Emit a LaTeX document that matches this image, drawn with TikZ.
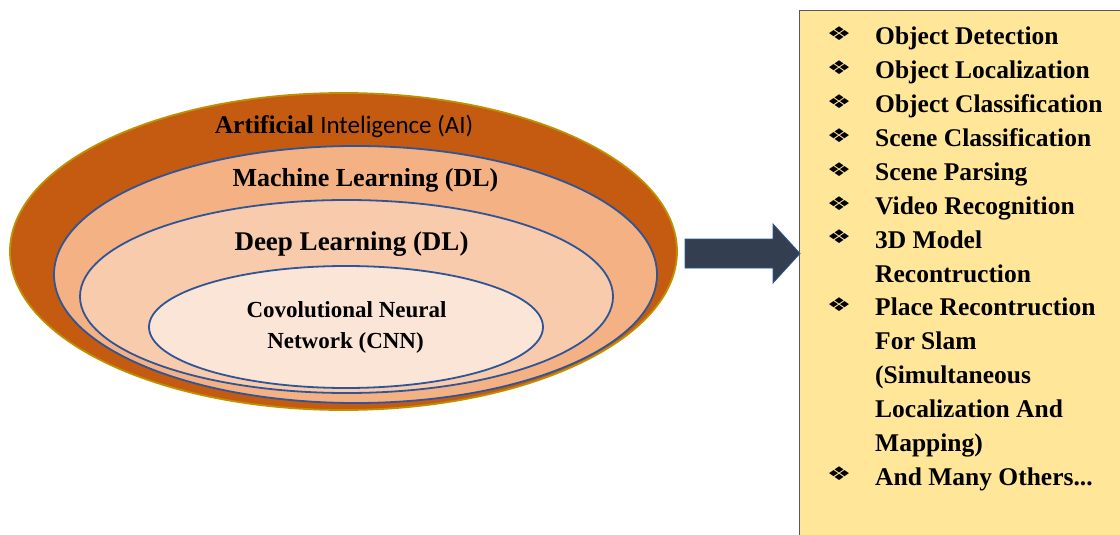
\documentclass[tikz,border=0pt]{standalone}
\usepackage{fontspec}
\setmainfont{Liberation Serif}
\newfontfamily\calibfont{Carlito}
\newfontfamily\dingfont{DejaVu Sans}
\usetikzlibrary{shapes.geometric}

\definecolor{aiorange}{HTML}{C55A11}
\definecolor{aigold}{HTML}{BF9000}
\definecolor{mlfill}{HTML}{F4B183}
\definecolor{dlfill}{HTML}{F8CBAD}
\definecolor{cnnfill}{HTML}{FBE5D6}
\definecolor{ringblue}{HTML}{2F5597}
\definecolor{arrowfill}{HTML}{333F50}
\definecolor{boxfill}{HTML}{FFE699}
\definecolor{boxedge}{HTML}{595959}

\newcommand\othersline{And Many Others...}

\tikzset{
  layer/.style={ellipse, inner sep=0pt, outer sep=0pt},
  ring/.style={layer, draw=ringblue, line width=1.8pt},
  lbl/.style={inner sep=0pt, anchor=base, text=black},
  itemtxt/.style={inner sep=0pt, anchor=base west, text=black,
    font=\bfseries\fontsize{25.5}{25.5}\selectfont},
  bulletmark/.style={inner sep=0pt, anchor=center, text=black,
    font=\dingfont\fontsize{21}{21}\selectfont},
}

\begin{document}
\begin{tikzpicture}[x=1pt,y=-1pt]
\useasboundingbox (0,0) rectangle (1120,535);
\begin{scope}
\clip (0,0) rectangle (1120,535);

% nested ellipses: AI > ML > DL > CNN
\node[layer, fill=aiorange, draw=aigold, line width=1.8pt,
      minimum width=667pt, minimum height=317pt] (ai) at (343.5,251.5) {};
\node[ring, fill=mlfill, minimum width=603pt, minimum height=257pt] (ml) at (355.5,274.5) {};
\node[ring, fill=dlfill, minimum width=533pt, minimum height=193pt] (dl) at (346.5,296.5) {};
\node[ring, fill=cnnfill, minimum width=394pt, minimum height=122pt] (cnn) at (346,327) {};

% layer labels
\node[lbl, font=\bfseries\fontsize{25.5}{25.5}\selectfont] (ailbl) at (344,133)
  {Artificial {\calibfont\mdseries\fontsize{25}{25}\selectfont Inteligence (AI)}};
\node[lbl, font=\bfseries\fontsize{26}{26}\selectfont] (mllbl) at (365.5,186) {Machine Learning (DL)};
\node[lbl, font=\bfseries\fontsize{27}{27}\selectfont] (dllbl) at (351.5,250) {Deep Learning (DL)};
\node[lbl, font=\bfseries\fontsize{23}{23}\selectfont] (cnnlbla) at (346.5,317) {Covolutional Neural};
\node[lbl, font=\bfseries\fontsize{23}{23}\selectfont] (cnnlblb) at (345.5,348) {Network (CNN)};

% applications box
\node[draw=boxedge, fill=boxfill, line width=1.3pt, inner sep=0pt, anchor=north west,
      minimum width=340pt, minimum height=540pt] (apps) at (799,10) {};

% block arrow from the ellipses to the box
\coordinate (tail) at (685,253.5);
\coordinate (tip) at (800,253.5);
\draw[draw=ringblue, fill=arrowfill, line width=0.8pt, line join=miter]
  ([shift={(0,-14.5)}]tail) -- ++(88,0) -- ++(0,-15) -- (tip)
  -- ([shift={(-27,29.5)}]tip) -- ++(0,-15) -- ([shift={(0,14.5)}]tail) -- cycle;

% list of applications
\foreach \yb/\t/\b [count=\i] in {
  45/Object Detection/1,
  78.9/Object Localization/1,
  112.7/Object Classification/1,
  146.6/Scene Classification/1,
  180.4/Scene Parsing/1,
  214.3/Video Recognition/1,
  248.1/3D Model/1,
  282/Recontruction/0,
  315.8/Place Recontruction/1,
  349.7/For Slam/0,
  383.5/(Simultaneous/0,
  417.4/Localization And/0,
  451.2/Mapping)/0,
  485/\othersline/1} {
  \node[itemtxt] (item\i) at (875,\yb) {\t};
  \ifnum\b=1
    \node[bulletmark] (mark\i) at (839,\yb-11) {\scalebox{1.3}[0.9]{❖}};
  \fi
}
\end{scope}
\end{tikzpicture}
\end{document}
